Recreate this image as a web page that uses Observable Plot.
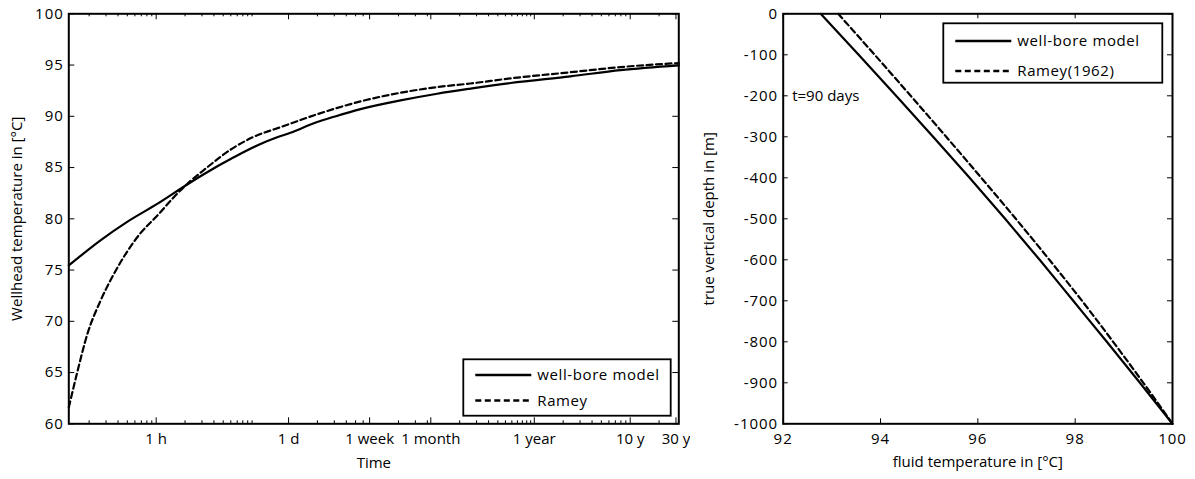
<!DOCTYPE html>
<html><head><meta charset="utf-8">
<script src="https://cdn.jsdelivr.net/npm/d3@7"></script>
<script src="https://cdn.jsdelivr.net/npm/@observablehq/plot@0.6"></script>
<style>
body{margin:0;background:#fff;}
#wrap{position:relative;width:1195px;height:479px;font-family:"Open Sans",sans-serif;background:#fff;}
#left,#right{position:absolute;top:0;}
#left{left:0px} #right{left:690px}
#leg{position:absolute;left:0;top:0;}
</style></head><body>
<div id="wrap"><div id="left"></div><div id="right"></div>
<svg id="leg" width="1195" height="479"></svg></div>
<script>
// ---------- data: left panel (time in hours) ----------
const wellboreHours = [0.1227, 0.2626, 0.4984, 1.024, 2.105, 3.135, 6.446, 12.24, 18.27, 25.14, 47.73, 71.1, 135, 352.7, 851, 1894, 4949, 20900, 69400, 281500];
const wellboreTemp  = [75.45, 77.9, 79.7, 81.45, 83.35, 84.35, 86.0, 87.3, 87.95, 88.4, 89.45, 89.95, 90.7, 91.55, 92.2, 92.7, 93.25, 93.9, 94.5, 94.97];
const rameyHours = [0.1227, 0.15, 0.1908, 0.2626, 0.3613, 0.4984, 0.686, 1.024, 1.526, 2.105, 3.135, 6.446, 9.623, 21.41, 47.73, 135, 352.7, 851, 1894, 4949, 20900, 69400, 281500];
const rameyTemp  = [61.6, 65.0, 68.7, 72.0, 74.6, 76.8, 78.6, 80.3, 82.1, 83.4, 84.75, 86.95, 87.85, 89.05, 90.2, 91.45, 92.3, 92.85, 93.2, 93.7, 94.3, 94.8, 95.2];
const timeTickHours  = [1, 24, 168, 730.5, 8766, 87660, 262980];
const timeTickLabels = ["1 h", "1 d", "1 week", "1 month", "1 year", "10 y", "30 y"];
const minorHourMult  = [0.2, 0.3, 0.4, 0.5, 0.6, 0.7, 0.8, 0.9, 2, 3, 4, 5, 6, 7, 8, 9, 10];
const minorDayMult   = [2, 3, 4, 5, 6];
const minorWeekMult  = [2, 3, 4];
const minorMonthMult = [2, 3, 4, 5, 6, 7, 8, 9, 10, 11];
const minorYearMult  = [2, 3, 4, 5, 6, 7, 8, 9, 20];
const tempTicks = [60, 65, 70, 75, 80, 85, 90, 95, 100];

// ---------- data: right panel ----------
const depth         = [0, -100, -200, -300, -400, -500, -600, -700, -800, -900, -1000];
const wellboreFluid = [92.77, 93.55, 94.32, 95.08, 95.83, 96.56, 97.27, 97.96, 98.65, 99.33, 100];
const rameyFluid    = [93.13, 93.88, 94.62, 95.35, 96.07, 96.78, 97.47, 98.14, 98.78, 99.40, 100];
const fluidTicks = [92, 94, 96, 98, 100];
const depthTicks = [0, -100, -200, -300, -400, -500, -600, -700, -800, -900, -1000];

const FONT = "'Open Sans', sans-serif";
const DASH = "6,3.5";
const FS = 15;

// ---------- left ----------
const minorHours = [
  ...minorHourMult,
  ...minorDayMult.map(d => d * 24),
  ...minorWeekMult.map(d => d * 168),
  ...minorMonthMult.map(d => d * 730.5),
  ...minorYearMult.map(d => d * 8766)
];
const wbL = wellboreHours.map((t, i) => ({t, v: wellboreTemp[i]}));
const raL = rameyHours.map((t, i) => ({t, v: rameyTemp[i]}));
const timeTicks = timeTickHours.map((t, i) => ({t, label: timeTickLabels[i]}));

const LW = 690, LH = 479, LML = 68.3, LMR = 11.7, LMT = 13.3, LMB = 55.7;
const LIH = LH - LMT - LMB, LIW = LW - LML - LMR;

const leftPlot = Plot.plot({
  width: LW, height: LH, marginLeft: LML, marginRight: LMR, marginTop: LMT, marginBottom: LMB,
  style: {fontFamily: FONT, fontSize: FS + "px", color: "#000", background: "transparent"},
  x: {type: "log", domain: [0.1227, 281500], axis: null},
  y: {domain: [60, 100], axis: null},
  marks: [
    Plot.line(wbL, {x: "t", y: "v", stroke: "#000", strokeWidth: 2.2, curve: "monotone-x"}),
    Plot.line(raL, {x: "t", y: "v", stroke: "#000", strokeWidth: 2.2, strokeDasharray: DASH, curve: "monotone-x"}),
    Plot.tickX(minorHours, {x: d => d, insetTop: LIH - 3, stroke: "#000", strokeWidth: 1}),
    Plot.tickX(minorHours, {x: d => d, insetBottom: LIH - 3, stroke: "#000", strokeWidth: 1}),
    Plot.tickX(timeTickHours, {x: d => d, insetTop: LIH - 6, stroke: "#000", strokeWidth: 1}),
    Plot.tickX(timeTickHours, {x: d => d, insetBottom: LIH - 6, stroke: "#000", strokeWidth: 1}),
    Plot.tickY(tempTicks, {y: d => d, insetRight: LIW - 6, stroke: "#000", strokeWidth: 1}),
    Plot.tickY(tempTicks, {y: d => d, insetLeft: LIW - 6, stroke: "#000", strokeWidth: 1}),
    Plot.text(timeTicks, {x: "t", text: "label", frameAnchor: "bottom", lineAnchor: "top", dy: 10, fontSize: FS, ariaLabel: "xtick"}),
    Plot.axisY({ticks: tempTicks, tickSize: 0, tickPadding: 5, label: null, fontSize: FS}),
    Plot.text(["Time"], {frameAnchor: "bottom", lineAnchor: "top", dy: 34, fontSize: FS}),
    Plot.text(["Wellhead temperature in [°C]"], {frameAnchor: "left", textAnchor: "middle", rotate: -90, dx: -51.3, fontSize: FS}),
    Plot.frame({stroke: "#000", strokeWidth: 2})
  ]
});
document.getElementById("left").appendChild(leftPlot);

// ---------- right ----------
const wbR = depth.map((d, i) => ({d, v: wellboreFluid[i]}));
const raR = depth.map((d, i) => ({d, v: rameyFluid[i]}));
const RW = 505, RH = 479, RML = 92.7, RMR = 23, RMT = 13.3, RMB = 55.7;
const RIH = RH - RMT - RMB, RIW = RW - RML - RMR;

const rightPlot = Plot.plot({
  width: RW, height: RH, marginLeft: RML, marginRight: RMR, marginTop: RMT, marginBottom: RMB,
  style: {fontFamily: FONT, fontSize: FS + "px", color: "#000", background: "transparent"},
  x: {domain: [92, 100], axis: null},
  y: {domain: [-1000, 0], axis: null},
  marks: [
    Plot.line(wbR, {x: "v", y: "d", stroke: "#000", strokeWidth: 2.2, curve: "monotone-y"}),
    Plot.line(raR, {x: "v", y: "d", stroke: "#000", strokeWidth: 2.2, strokeDasharray: DASH, curve: "monotone-y"}),
    Plot.tickX(fluidTicks, {x: d => d, insetTop: RIH - 5, stroke: "#000", strokeWidth: 1}),
    Plot.tickX(fluidTicks, {x: d => d, insetBottom: RIH - 5, stroke: "#000", strokeWidth: 1}),
    Plot.tickY(depthTicks, {y: d => d, insetRight: RIW - 5, stroke: "#000", strokeWidth: 1}),
    Plot.tickY(depthTicks, {y: d => d, insetLeft: RIW - 5, stroke: "#000", strokeWidth: 1}),
    Plot.axisX({ticks: fluidTicks, tickSize: 0, tickPadding: 10, label: null, fontSize: FS}),
    Plot.axisY({ticks: depthTicks, tickSize: 0, tickPadding: 5, tickFormat: d => String(d), label: null, fontSize: FS}),
    Plot.text(["fluid temperature in [°C]"], {frameAnchor: "bottom", lineAnchor: "top", dy: 33, fontSize: FS}),
    Plot.text(["true vertical depth in [m]"], {frameAnchor: "left", textAnchor: "middle", rotate: -90, dx: -73.7, fontSize: FS}),
    Plot.text(["t=90 days"], {frameAnchor: "left", y: [-200], text: d => d, dx: 9, textAnchor: "start", fontSize: FS, ariaLabel: "note"}),
    Plot.frame({stroke: "#000", strokeWidth: 2})
  ]
});
document.getElementById("right").appendChild(rightPlot);

// letter spacing on tick labels (reference font renders wide)
for (const svg of [leftPlot, rightPlot]) {
  d3.select(svg).selectAll('g[aria-label="y-axis tick label"] text, g[aria-label="x-axis tick label"] text, g[aria-label="xtick"] text, g[aria-label="note"] text')
    .style("letter-spacing", "1px");
}

// ---------- legends ----------
const leg = d3.select("#leg").style("font-family", FONT);
function legend(x, y, w, h, rows, items) {
  leg.append("rect").attr("x", x).attr("y", y).attr("width", w).attr("height", h)
    .attr("fill", "#fff").attr("stroke", "#000").attr("stroke-width", 1.8);
  items.forEach((it, i) => {
    const cy = y + rows[i];
    leg.append("line").attr("x1", x + 12).attr("x2", x + 68).attr("y1", cy).attr("y2", cy)
      .attr("stroke", "#000").attr("stroke-width", 2.4).attr("stroke-dasharray", it.dash || null);
    leg.append("text").attr("x", x + 74).attr("y", cy).attr("dy", "0.35em")
      .attr("font-size", 15).style("letter-spacing", "0.6px").text(it.label);
  });
}
legend(463.3, 359.3, 207.4, 56.4, [15.7, 41.2], [{label: "well-bore model"}, {label: "Ramey", dash: DASH}]);
legend(943.3, 23.3, 219, 59.4, [17.7, 47.7], [{label: "well-bore model"}, {label: "Ramey(1962)", dash: DASH}]);
</script>
</body></html>
